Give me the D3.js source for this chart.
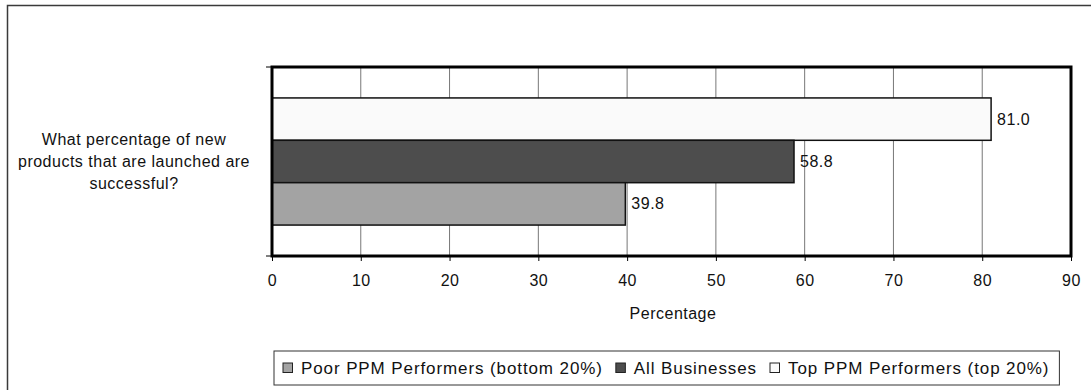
<!DOCTYPE html>
<html>
<head>
<meta charset="utf-8">
<script src="https://cdn.jsdelivr.net/npm/d3@7"></script>
<style>
  html, body { margin: 0; padding: 0; background: #fff; }
  svg { display: block; font-family: "Liberation Sans", Arial, sans-serif; }
</style>
</head>
<body>
<svg id="chart" width="1091" height="390"></svg>
<script>
// Survey question shown on the category axis
const categories = ["What percentage of new products that are launched are successful?"];
const categoryLines = ["What percentage of new", "products that are launched are", "successful?"];

// Series, listed top-to-bottom as drawn within the category
const seriesNames = ["Top PPM Performers (top 20%)", "All Businesses", "Poor PPM Performers (bottom 20%)"];
const seriesValues = [81.0, 58.8, 39.8];
const seriesColors = ["#fafafa", "#4d4d4d", "#a3a3a3"];

// Legend order (left to right)
const legendOrder = ["Poor PPM Performers (bottom 20%)", "All Businesses", "Top PPM Performers (top 20%)"];

const xTicks = [0, 10, 20, 30, 40, 50, 60, 70, 80, 90];
const xTitle = "Percentage";

const FS = 16;        // body text size
const LS = 0.5;       // letter spacing for body text

const svg = d3.select("#chart");

// Outer chart frame (top and left edges visible)
svg.append("path")
  .attr("d", "M7.5,390 L7.5,5.5 L1091,5.5")
  .attr("fill", "none").attr("stroke", "#3a3a3a").attr("stroke-width", 1.5);

const plot = { left: 272, right: 1071, top: 67, bottom: 256 };

const x = d3.scaleLinear().domain([0, 90]).range([plot.left, plot.right]);
const yCat = d3.scaleBand().domain(categories).range([plot.top, plot.bottom]).paddingInner(0).paddingOuter(0);
const ySeries = d3.scaleBand().domain(seriesNames)
  .range([0, yCat.bandwidth()]).paddingInner(0).paddingOuter(0.73);

// Vertical gridlines
svg.append("g").selectAll("line").data(xTicks.slice(1, -1)).join("line")
  .attr("x1", d => x(d)).attr("x2", d => x(d))
  .attr("y1", plot.top).attr("y2", plot.bottom)
  .attr("stroke", "#777").attr("stroke-width", 1);

// Bars
const cat = categories[0];
const barG = svg.append("g");
barG.selectAll("rect").data(seriesNames).join("rect")
  .attr("x", x(0))
  .attr("y", (d) => yCat(cat) + ySeries(d))
  .attr("width", (d, i) => x(seriesValues[i]) - x(0))
  .attr("height", ySeries.bandwidth())
  .attr("fill", (d, i) => seriesColors[i])
  .attr("stroke", "#111").attr("stroke-width", 1.5);

// Value labels
barG.selectAll("text").data(seriesNames).join("text")
  .attr("x", (d, i) => x(seriesValues[i]) + 6)
  .attr("y", (d) => yCat(cat) + ySeries(d) + ySeries.bandwidth() / 2)
  .attr("dy", "0.35em")
  .attr("font-size", FS).attr("letter-spacing", LS).attr("fill", "#111")
  .text((d, i) => seriesValues[i].toFixed(1));

// Plot border
svg.append("rect")
  .attr("x", plot.left).attr("y", plot.top)
  .attr("width", plot.right - plot.left).attr("height", plot.bottom - plot.top)
  .attr("fill", "none").attr("stroke", "#000").attr("stroke-width", 3);

// X axis
const xAxis = d3.axisBottom(x).tickValues(xTicks).tickSize(5).tickPadding(14).tickFormat(d3.format("d"));
const gx = svg.append("g").attr("transform", `translate(0,${plot.bottom})`).call(xAxis);
gx.select(".domain").remove();
gx.selectAll(".tick line").attr("stroke", "#000");
gx.selectAll(".tick text").attr("font-size", FS).attr("letter-spacing", LS).attr("fill", "#111")
  .attr("font-family", "Liberation Sans, Arial, sans-serif");

// Category axis ticks at band edges
const yEdges = [plot.top, plot.bottom];
svg.append("g").selectAll("line").data(yEdges).join("line")
  .attr("x1", plot.left - 6).attr("x2", plot.left)
  .attr("y1", d => d).attr("y2", d => d)
  .attr("stroke", "#000").attr("stroke-width", 1);

// Category label
const catY = yCat(cat) + yCat.bandwidth() / 2;
svg.append("text")
  .attr("x", 134).attr("y", catY - 22)
  .attr("text-anchor", "middle").attr("font-size", FS).attr("letter-spacing", LS).attr("fill", "#111")
  .selectAll("tspan").data(categoryLines).join("tspan")
  .attr("x", 134).attr("dy", (d, i) => i === 0 ? "0.35em" : 22)
  .text(d => d);

// X axis title
svg.append("text")
  .attr("x", 673).attr("y", 313).attr("dy", "0.35em")
  .attr("text-anchor", "middle").attr("font-size", FS).attr("letter-spacing", LS).attr("fill", "#111")
  .text(xTitle);

// Legend
const legend = svg.append("g");
const legBox = legend.append("rect")
  .attr("y", 351).attr("height", 34)
  .attr("fill", "#fff").attr("stroke", "#333").attr("stroke-width", 1);
let cx = 283;
let lastEnd = cx;
legendOrder.forEach((name) => {
  const i = seriesNames.indexOf(name);
  legend.append("rect")
    .attr("x", cx).attr("y", 363).attr("width", 9.5).attr("height", 9.5)
    .attr("fill", seriesColors[i]).attr("stroke", "#222").attr("stroke-width", 1);
  const t = legend.append("text")
    .attr("x", cx + 18).attr("y", 368).attr("dy", "0.35em")
    .attr("font-size", 17).attr("letter-spacing", 0.9).attr("fill", "#111").text(name);
  lastEnd = cx + 18 + t.node().getComputedTextLength();
  cx = lastEnd + 13;
});
legBox.attr("x", 274).attr("width", lastEnd + 10 - 274);
</script>
</body>
</html>
